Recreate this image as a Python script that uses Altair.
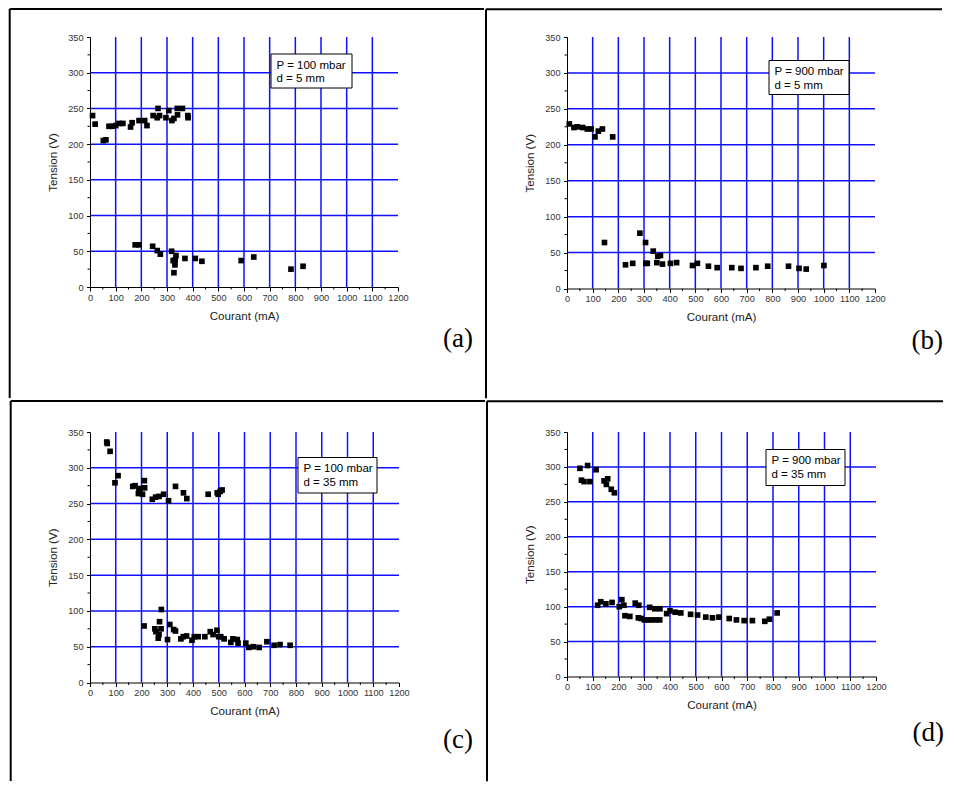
import altair as alt
import pandas as pd

# ---------------- data ----------------
X_MAJOR = list(range(0, 1201, 100))
X_MINOR = list(range(50, 1200, 100))
Y_MAJOR = list(range(0, 351, 50))
Y_MINOR = list(range(25, 350, 50))
X_GRID = list(range(100, 1101, 100))
Y_GRID = list(range(50, 301, 50))

# (a) P = 100 mbar, d = 5 mm
A_X = [10, 20, 52, 62, 74, 87, 100, 113, 128, 158, 164, 191, 213, 222, 246, 262, 265, 271, 296, 307, 319, 327, 340, 341, 360, 381, 382,
       176, 191, 244, 262, 274, 318, 324, 327, 331, 332, 335, 370, 410, 436, 589, 638, 783, 830]
A_Y = [240, 228, 205, 206, 225, 225, 226, 229, 229, 224, 230, 233, 233, 226, 240, 237, 250, 240, 237, 247, 233, 236, 250, 241, 250, 240, 237,
       59, 59, 57, 51, 46, 50, 37, 20, 31, 38, 44, 40, 40, 36, 37, 42, 25, 29]

# (b) P = 900 mbar, d = 5 mm
B_X = [9, 27, 40, 61, 79, 94, 109, 122, 138, 178,
       146, 228, 256, 284, 306, 307, 313, 336, 350, 354, 364, 372, 403, 427, 489, 508, 551, 585, 642, 678, 736, 782, 863, 904, 932, 1001]
B_Y = [229, 224, 225, 224, 222, 222, 211, 219, 222, 211,
       64, 33, 35, 77, 64, 35, 35, 52, 36, 45, 46, 34, 35, 36, 32, 35, 31, 29, 29, 28, 29, 31, 31, 28, 27, 32]

# (c) P = 100 mbar, d = 35 mm
C_X = [65, 67, 78, 97, 109, 166, 175, 188, 190, 194, 204, 211, 212, 242, 255, 268, 286, 305, 332, 363, 376, 459, 494, 498, 506, 513,
       210, 252, 256, 265, 268, 270, 276, 277, 301, 310, 325, 332, 353, 362, 375, 396, 405, 420, 446, 467, 478, 493, 500, 508, 521,
       547, 555, 572, 575, 605, 617, 635, 657, 687, 715, 738, 777]
C_Y = [336, 334, 323, 279, 289, 274, 275, 264, 271, 269, 263, 282, 272, 256, 259, 260, 263, 254, 274, 265, 257, 263, 265, 263, 267, 269,
       79, 75, 71, 62, 67, 85, 75, 102, 60, 81, 74, 72, 61, 64, 65, 59, 64, 64, 64, 71, 67, 73, 64, 64, 61,
       56, 61, 60, 55, 55, 49, 50, 49, 57, 52, 53, 52]

# (d) P = 900 mbar, d = 35 mm
D_X = [50, 56, 66, 80, 89, 113, 144, 153, 158, 172, 184,
       119, 131, 151, 175, 203, 213, 221, 225, 244, 265, 279, 277, 288, 301, 313, 321, 327, 341, 343, 361, 360,
       387, 400, 420, 442, 480, 507, 539, 565, 590, 630, 658, 688, 720, 768, 786, 816]
D_Y = [298, 281, 279, 302, 279, 296, 280, 275, 283, 268, 263,
       102, 107, 104, 106, 100, 110, 102, 87, 86, 105, 102, 84, 83, 81, 81, 99, 81, 97, 81, 97, 81,
       90, 94, 92, 91, 89, 88, 85, 84, 85, 83, 81, 80, 80, 79, 82, 91]

LEGENDS = [["P = 100 mbar", "d = 5 mm"], ["P = 900 mbar", "d = 5 mm"],
           ["P = 100 mbar", "d = 35 mm"], ["P = 900 mbar", "d = 35 mm"]]
TAGS = ["(a)", "(b)", "(c)", "(d)"]

# ---------------- layout / style ----------------
SANS = "Liberation Sans"
SERIF = "Liberation Serif"
BLUE = "#1010ff"

# per panel: plot W, H ; cell bounds (L, T, R, B) relative to plot origin ; legend box (x1, y1, x2, y2) ; tag (right x, baseline y)
LAYOUT = [
    dict(W=308, H=250, cell=(-80.3, -28, 394, 361), box=(181, 17, 262, 51), tag=(383, 310)),
    dict(W=308, H=251.5, cell=(-81, -27.7, 375, 361.3), box=(202, 23.5, 282, 57.5), tag=(376, 311.5)),
    dict(W=309, H=250.5, cell=(-79.3, -31, 395, 349), box=(208, 25.5, 287, 61), tag=(383, 315.5)),
    dict(W=309, H=244.5, cell=(-80, -30.7, 376, 349.3), box=(199, 17.5, 278, 53.5), tag=(377, 309)),
]

one = pd.DataFrame({"k": [0]})

XT = "Courant (mA)"
YT = "Tension (V)"
X_AXIS = alt.Axis(values=X_MAJOR, format="d", labelOverlap=False, labelFlush=False, tickSize=4, labelPadding=2,
                  titlePadding=8, grid=False, title=XT, zindex=2)
Y_AXIS = alt.Axis(values=Y_MAJOR, format="d", labelOverlap=False, labelFlush=False, tickSize=3.5, labelPadding=3.5,
                  titlePadding=9, grid=False, title=YT, zindex=2)


def panel(xs, ys, legend, tag, lay):
    W, H = lay["W"], lay["H"]
    L, T, R, B = lay["cell"]
    bx1, by1, bx2, by2 = lay["box"]
    tx, ty = lay["tag"]
    xsc = alt.Scale(domain=[0, 1200], nice=False, zero=True)
    ysc = alt.Scale(domain=[0, 350], nice=False, zero=True)

    def X():
        return alt.X("x:Q", scale=xsc, axis=X_AXIS, title=XT)

    def Y():
        return alt.Y("y:Q", scale=ysc, axis=Y_AXIS, title=YT)

    bg = alt.Chart(one).mark_rect(fill="white", fillOpacity=0, strokeWidth=0).encode(
        x=alt.value(L), x2=alt.value(R), y=alt.value(T), y2=alt.value(B))
    vgrid = alt.Chart(pd.DataFrame({"x": X_GRID})).mark_rule(color=BLUE, strokeWidth=1.5).encode(
        x=X(), y=alt.value(0), y2=alt.value(H))
    hgrid = alt.Chart(pd.DataFrame({"y": Y_GRID})).mark_rule(color=BLUE, strokeWidth=1.5).encode(
        y=Y(), x=alt.value(0), x2=alt.value(W))
    xmin = alt.Chart(pd.DataFrame({"x": X_MINOR})).mark_rule(color="black", strokeWidth=1).encode(
        x=X(), y=alt.value(H), y2=alt.value(H + 2.5))
    ymin = alt.Chart(pd.DataFrame({"y": Y_MINOR})).mark_rule(color="black", strokeWidth=1).encode(
        y=Y(), x=alt.value(-2.5), x2=alt.value(0))
    pts = alt.Chart(pd.DataFrame({"x": xs, "y": ys})).mark_square(
        size=32, color="black", opacity=1, filled=True).encode(x=X(), y=Y())
    box = alt.Chart(one).mark_rect(fill="white", stroke="black", strokeWidth=1).encode(
        x=alt.value(bx1), x2=alt.value(bx2), y=alt.value(by1), y2=alt.value(by2))
    t1 = alt.Chart(one).mark_text(font=SANS, fontSize=11.5, align="left", baseline="alphabetic", color="black").encode(
        x=alt.value(bx1 + 5.5), y=alt.value(by1 + 14.5), text=alt.value(legend[0]))
    t2 = alt.Chart(one).mark_text(font=SANS, fontSize=11.5, align="left", baseline="alphabetic", color="black").encode(
        x=alt.value(bx1 + 5.5), y=alt.value(by1 + 28.2), text=alt.value(legend[1]))
    tg = alt.Chart(one).mark_text(font=SERIF, fontSize=27, align="right", baseline="alphabetic", color="black").encode(
        x=alt.value(tx), y=alt.value(ty), text=alt.value(tag))
    lrule = alt.Chart(one).mark_rule(color="black", strokeWidth=2).encode(
        x=alt.value(L), y=alt.value(T), y2=alt.value(B))
    trule = alt.Chart(one).mark_rule(color="black", strokeWidth=2).encode(
        y=alt.value(T), x=alt.value(L), x2=alt.value(R))
    return alt.layer(bg, vgrid, hgrid, xmin, ymin, pts, box, t1, t2, tg, lrule, trule).properties(width=W, height=H)


pa = panel(A_X, A_Y, LEGENDS[0], TAGS[0], LAYOUT[0])
pb = panel(B_X, B_Y, LEGENDS[1], TAGS[1], LAYOUT[1])
pc = panel(C_X, C_Y, LEGENDS[2], TAGS[2], LAYOUT[2])
pd_ = panel(D_X, D_Y, LEGENDS[3], TAGS[3], LAYOUT[3])

chart = alt.vconcat(
    alt.hconcat(pa, pb, spacing=0),
    alt.hconcat(pc, pd_, spacing=0),
    spacing=0,
).properties(
    padding={"left": 0, "top": 0, "right": 0, "bottom": 0},
    autosize=alt.AutoSizeParams(type="pad"),
).configure_view(strokeWidth=0).configure_axis(
    labelFont=SANS, labelFontSize=9.2, labelColor="#333333",
    titleFont=SANS, titleFontSize=11.6, titleFontWeight="normal", titleColor="#222222",
    domainColor="black", tickColor="black", domainWidth=1, tickWidth=1,
)

chart.save("out.html", embed_options={"renderer": "svg", "actions": False})
